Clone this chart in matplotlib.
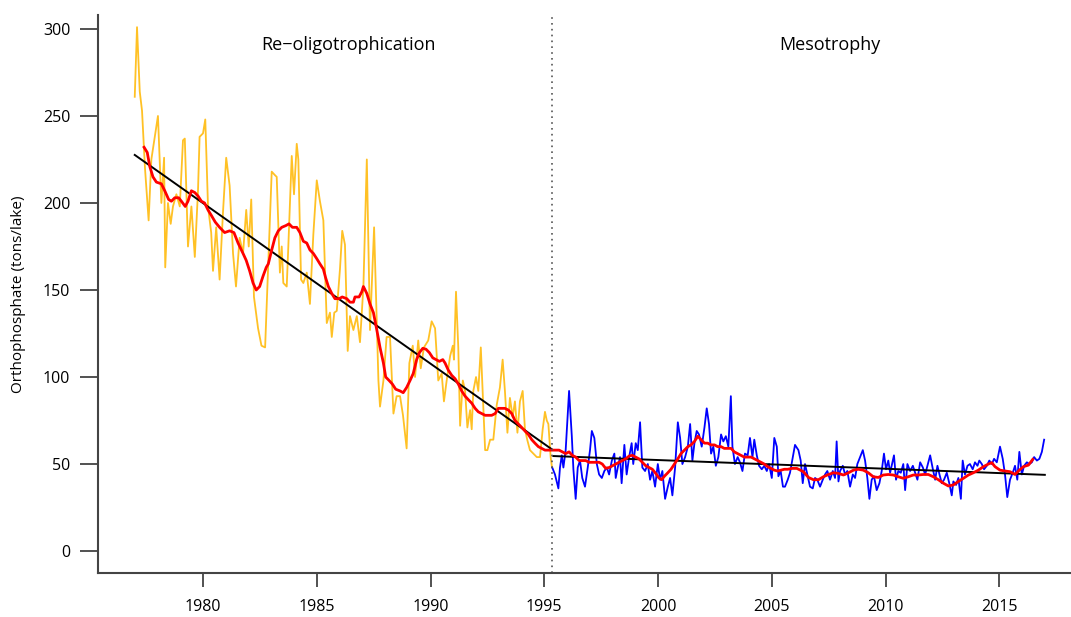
import matplotlib
matplotlib.use("Agg")
import matplotlib.pyplot as plt

# =========================
# DADOS
# =========================

# fase de re-oligotrofização (amarelo)
anos_reoligo = [
    1977.00, 1977.10, 1977.22, 1977.32, 1977.45, 1977.61, 1977.73, 1978.02, 1978.17, 1978.29,
    1978.34, 1978.46, 1978.58, 1978.68, 1978.83, 1978.98, 1979.12, 1979.20, 1979.34, 1979.49,
    1979.64, 1979.78, 1979.85, 1980.00, 1980.10, 1980.22, 1980.36, 1980.44, 1980.58, 1980.73,
    1980.88, 1981.02, 1981.17, 1981.32, 1981.45, 1981.61, 1981.76, 1981.90, 1982.01, 1982.12,
    1982.24, 1982.42, 1982.57, 1982.73, 1982.87, 1983.02, 1983.16, 1983.24, 1983.38, 1983.46,
    1983.53, 1983.68, 1983.75, 1983.90, 1984.00, 1984.12, 1984.19, 1984.31, 1984.41, 1984.56,
    1984.70, 1984.85, 1985.00, 1985.14, 1985.29, 1985.44, 1985.58, 1985.66, 1985.77, 1985.88,
    1986.02, 1986.12, 1986.24, 1986.36, 1986.46, 1986.61, 1986.76, 1986.90, 1987.05, 1987.20,
    1987.34, 1987.52, 1987.71, 1987.78, 1987.93, 1988.07, 1988.22, 1988.37, 1988.51, 1988.66,
    1988.79, 1988.95, 1989.07, 1989.22, 1989.32, 1989.46, 1989.57, 1989.71, 1989.90, 1990.05,
    1990.20, 1990.34, 1990.49, 1990.59, 1990.71, 1990.86, 1990.98, 1991.03, 1991.12, 1991.22,
    1991.30, 1991.42, 1991.52, 1991.62, 1991.74, 1991.81, 1991.88, 1992.00, 1992.10, 1992.21,
    1992.29, 1992.40, 1992.50, 1992.62, 1992.76, 1992.91, 1993.05, 1993.17, 1993.27, 1993.38,
    1993.49, 1993.61, 1993.71, 1993.82, 1993.93, 1994.05, 1994.15, 1994.25, 1994.37, 1994.52,
    1994.67, 1994.81, 1994.93, 1995.03, 1995.11, 1995.18, 1995.28, 1995.34,
]
fosf_reoligo = [
    261, 301, 264, 253, 220, 190, 225, 250, 200, 226,
    163, 200, 188, 198, 205, 198, 236, 237, 175, 198,
    169, 207, 238, 240, 248, 198, 183, 161, 186, 156,
    195, 226, 210, 171, 152, 180, 171, 196, 175, 202,
    146, 128, 118, 117, 165, 218, 216, 215, 160, 175,
    154, 152, 175, 227, 205, 234, 225, 156, 154, 160,
    142, 182, 213, 201, 190, 131, 137, 123, 137, 138,
    162, 184, 176, 115, 135, 127, 135, 120, 152, 225,
    127, 186, 98, 83, 98, 123, 123, 79, 89, 89,
    78, 59, 108, 118, 100, 121, 105, 117, 121, 132,
    128, 98, 102, 86, 98, 112, 118, 110, 149, 117,
    72, 98, 92, 71, 81, 70, 92, 100, 92, 117,
    92, 58, 58, 64, 64, 84, 94, 110, 92, 68,
    88, 77, 86, 68, 86, 92, 70, 64, 58, 56,
    54, 54, 70, 80, 75, 73, 54, 48,
]

# fase de mesotrofia (azul)
anos_meso = [
    1995.35, 1995.47, 1995.62, 1995.69, 1995.77, 1995.84, 1995.94, 1996.09, 1996.21, 1996.28,
    1996.38, 1996.47, 1996.57, 1996.67, 1996.79, 1996.91, 1997.01, 1997.09, 1997.20, 1997.31,
    1997.41, 1997.53, 1997.64, 1997.75, 1997.85, 1997.97, 1998.08, 1998.14, 1998.23, 1998.33,
    1998.40, 1998.52, 1998.62, 1998.73, 1998.84, 1998.91, 1999.02, 1999.11, 1999.21, 1999.31,
    1999.43, 1999.55, 1999.65, 1999.75, 1999.87, 1999.99, 2000.09, 2000.19, 2000.31, 2000.43,
    2000.53, 2000.63, 2000.75, 2000.87, 2000.97, 2001.07, 2001.19, 2001.31, 2001.41, 2001.51,
    2001.60, 2001.70, 2001.80, 2001.92, 2002.04, 2002.14, 2002.24, 2002.33, 2002.43, 2002.54,
    2002.65, 2002.77, 2002.87, 2002.98, 2003.09, 2003.20, 2003.27, 2003.38, 2003.50, 2003.60,
    2003.71, 2003.82, 2003.94, 2004.04, 2004.15, 2004.23, 2004.34, 2004.44, 2004.56, 2004.67,
    2004.78, 2004.88, 2005.00, 2005.11, 2005.22, 2005.29, 2005.39, 2005.49, 2005.58, 2005.70,
    2005.80, 2006.02, 2006.17, 2006.27, 2006.36, 2006.46, 2006.56, 2006.68, 2006.80, 2006.90,
    2007.00, 2007.12, 2007.24, 2007.34, 2007.44, 2007.56, 2007.68, 2007.78, 2007.85, 2007.93,
    2008.00, 2008.12, 2008.22, 2008.32, 2008.44, 2008.56, 2008.66, 2008.76, 2008.88, 2009.00,
    2009.10, 2009.20, 2009.29, 2009.39, 2009.49, 2009.61, 2009.73, 2009.83, 2009.93, 2010.02,
    2010.12, 2010.20, 2010.27, 2010.37, 2010.46, 2010.56, 2010.67, 2010.78, 2010.86, 2010.96,
    2011.08, 2011.20, 2011.30, 2011.40, 2011.52, 2011.64, 2011.74, 2011.84, 2011.96, 2012.08,
    2012.18, 2012.28, 2012.37, 2012.47, 2012.57, 2012.69, 2012.80, 2012.91, 2012.98, 2013.10,
    2013.20, 2013.31, 2013.39, 2013.49, 2013.60, 2013.71, 2013.83, 2013.93, 2014.04, 2014.12,
    2014.23, 2014.33, 2014.45, 2014.56, 2014.67, 2014.77, 2014.89, 2015.03, 2015.15, 2015.25,
    2015.35, 2015.47, 2015.59, 2015.69, 2015.79, 2015.88, 2015.99, 2016.09, 2016.21, 2016.32,
    2016.43, 2016.53, 2016.65, 2016.76, 2016.87, 2016.97,
]
fosf_meso = [
    48, 44, 36, 48, 55, 48, 58, 92, 66, 47,
    30, 48, 52, 42, 37, 48, 58, 69, 65, 50,
    44, 42, 46, 48, 44, 52, 56, 42, 48, 54,
    39, 61, 44, 54, 62, 50, 62, 58, 74, 48,
    46, 50, 41, 46, 37, 50, 41, 46, 30, 37,
    42, 32, 48, 74, 65, 50, 54, 60, 73, 52,
    62, 69, 67, 60, 71, 82, 73, 56, 60, 49,
    54, 67, 63, 66, 60, 89, 60, 50, 54, 51,
    46, 56, 55, 65, 54, 64, 55, 49, 47, 49,
    46, 50, 42, 65, 60, 43, 46, 37, 37, 41,
    45, 61, 58, 52, 39, 50, 44, 37, 36, 42,
    41, 37, 41, 44, 46, 41, 46, 42, 63, 40,
    46, 49, 44, 46, 37, 44, 42, 50, 54, 58,
    52, 42, 30, 41, 43, 35, 39, 46, 56, 47,
    52, 45, 49, 55, 41, 46, 45, 50, 35, 50,
    46, 49, 45, 41, 51, 48, 44, 49, 55, 47,
    41, 49, 44, 39, 41, 45, 39, 32, 40, 38,
    42, 30, 52, 44, 49, 50, 47, 51, 49, 52,
    50, 47, 49, 52, 50, 53, 51, 60, 53, 44,
    31, 41, 45, 49, 41, 57, 44, 49, 51, 50,
    51, 54, 52, 53, 57, 64,
]

# média móvel (vermelho)
anos_media = [
    1977.41, 1977.55, 1977.66, 1977.80, 1977.95, 1978.17, 1978.32, 1978.49, 1978.61, 1978.76,
    1978.93, 1979.05, 1979.22, 1979.34, 1979.49, 1979.64, 1979.78, 1979.93, 1980.07, 1980.22,
    1980.36, 1980.54, 1980.73, 1980.95, 1981.17, 1981.36, 1981.54, 1981.76, 1981.90, 1982.05,
    1982.20, 1982.34, 1982.49, 1982.64, 1982.78, 1982.87, 1983.02, 1983.16, 1983.31, 1983.46,
    1983.64, 1983.78, 1983.93, 1984.12, 1984.26, 1984.41, 1984.56, 1984.70, 1984.85, 1985.00,
    1985.14, 1985.29, 1985.39, 1985.51, 1985.66, 1985.80, 1985.98, 1986.12, 1986.32, 1986.46,
    1986.61, 1986.68, 1986.86, 1986.98, 1987.05, 1987.20, 1987.34, 1987.49, 1987.64, 1987.78,
    1987.93, 1988.03, 1988.18, 1988.32, 1988.47, 1988.66, 1988.80, 1988.95, 1989.10, 1989.24,
    1989.39, 1989.51, 1989.66, 1989.80, 1989.95, 1990.10, 1990.24, 1990.39, 1990.54, 1990.64,
    1990.78, 1990.93, 1991.08, 1991.22, 1991.37, 1991.52, 1991.66, 1991.81, 1991.96, 1992.10,
    1992.25, 1992.40, 1992.54, 1992.69, 1992.84, 1992.98, 1993.13, 1993.27, 1993.42, 1993.57,
    1993.71, 1993.86, 1994.01, 1994.15, 1994.30, 1994.45, 1994.59, 1994.74, 1994.89, 1995.03,
    1995.18, 1995.33, 1995.47, 1995.65, 1995.79, 1995.94, 1996.09, 1996.23, 1996.38, 1996.53,
    1996.67, 1996.82, 1996.97, 1997.11, 1997.26, 1997.41, 1997.55, 1997.70, 1997.85, 1997.99,
    1998.14, 1998.29, 1998.43, 1998.58, 1998.73, 1998.87, 1999.02, 1999.16, 1999.31, 1999.46,
    1999.60, 1999.75, 1999.90, 2000.04, 2000.16, 2000.28, 2000.43, 2000.57, 2000.72, 2000.87,
    2001.01, 2001.16, 2001.31, 2001.45, 2001.60, 2001.75, 2001.89, 2002.04, 2002.18, 2002.33,
    2002.48, 2002.62, 2002.77, 2002.91, 2003.06, 2003.21, 2003.35, 2003.50, 2003.65, 2003.79,
    2003.94, 2004.09, 2004.23, 2004.38, 2004.53, 2004.67, 2004.82, 2004.97, 2005.11, 2005.26,
    2005.41, 2005.55, 2005.70, 2005.88, 2006.10, 2006.39, 2006.61, 2006.83, 2007.05, 2007.27,
    2007.49, 2007.71, 2007.93, 2008.15, 2008.37, 2008.59, 2008.80, 2009.02, 2009.24, 2009.46,
    2009.68, 2009.90, 2010.12, 2010.34, 2010.56, 2010.78, 2011.00, 2011.22, 2011.44, 2011.66,
    2011.88, 2012.10, 2012.32, 2012.54, 2012.76, 2012.98, 2013.20, 2013.42, 2013.64, 2013.86,
    2014.08, 2014.30, 2014.52, 2014.67, 2014.81, 2015.03, 2015.25, 2015.47, 2015.69, 2015.88,
    2016.06, 2016.28, 2016.47,
]
fosf_media = [
    232, 229, 221, 215, 212, 211, 207, 202, 201, 203,
    203, 201, 198, 201, 207, 206, 204, 201, 200, 196,
    193, 189, 186, 183, 184, 183, 177, 171, 167, 161,
    154, 150, 152, 158, 163, 165, 173, 180, 184, 186,
    187, 188, 186, 186, 183, 178, 177, 173, 171, 168,
    165, 162, 157, 152, 148, 145, 145, 146, 145, 143,
    143, 146, 146, 149, 152, 148, 142, 137, 127, 117,
    108, 100, 98, 96, 93, 92, 91, 94, 98, 102,
    110, 114, 116.5, 116, 114, 111, 110, 109, 110, 108,
    104, 101, 99, 96, 92, 89, 87, 85, 82, 80,
    79, 78, 78, 78, 79, 82, 82, 82, 81, 79,
    75, 73, 71, 69, 67, 64, 62, 60, 59, 58,
    58, 58, 58, 58, 57, 56, 57, 55, 54, 52,
    52, 52, 51, 51, 51, 51, 50, 47.5, 48, 49,
    50, 51, 52, 53, 54.6, 55, 54, 53, 51, 49,
    48, 47, 44.6, 42, 41, 43, 45, 47, 50, 53,
    56, 58, 60, 61, 63, 66, 64, 62, 62, 61,
    61, 60, 60, 59, 59, 59, 57, 56, 55, 54,
    54, 54, 53, 52, 51, 50, 48.5, 47.5, 46.5, 46,
    46.5, 47, 47, 47.5, 47.5, 45.6, 42.3, 41, 41, 42.7,
    44, 45, 44.6, 43.7, 45, 46.5, 47, 46.5, 45, 42.7,
    42.3, 43.7, 44, 43.7, 42.7, 41.8, 42.7, 43.7, 43.7, 44,
    44, 42.7, 41, 39, 37.4, 38, 40, 41.8, 43.7, 45,
    46.5, 48.5, 50, 50.8, 48.5, 46.5, 46, 45.6, 44, 46.5,
    48.5, 49.4, 52.7,
]

# tendências lineares (início e fim de cada fase)
tend_reoligo_anos = [1977.0, 1995.33]
tend_reoligo_vals = [227.6, 58.5]
tend_meso_anos = [1995.4, 2017.0]
tend_meso_vals = [54.6, 43.8]

ano_quebra = 1995.34

anos_ticks = [1980, 1985, 1990, 1995, 2000, 2005, 2010, 2015]
fosf_ticks = [0, 50, 100, 150, 200, 250, 300]

# =========================
# GRÁFICO
# =========================

plt.rcParams["font.family"] = ["Open Sans", "DejaVu Sans"]

fig = plt.figure(figsize=(10.71, 6.17), dpi=100)
ax = fig.add_axes([98 / 1071, 44 / 617, 983 / 1071, 558 / 617])

ax.plot(anos_reoligo, fosf_reoligo, color="#FFC125", lw=1.3)
ax.plot(anos_meso, fosf_meso, color="#0000FF", lw=1.3)
ax.plot(tend_reoligo_anos, tend_reoligo_vals, color="black", lw=1.4)
ax.plot(tend_meso_anos, tend_meso_vals, color="black", lw=1.4)
ax.plot(anos_media, fosf_media, color="#FF0000", lw=2.0)

ax.axvline(ano_quebra, color="#555555", lw=1.2, ls=(0, (1, 2.5)))

ax.text(1986.4, 291, "Re\u2212oligotrophication", ha="center", va="center", fontsize=13)
ax.text(2007.55, 291, "Mesotrophy", ha="center", va="center", fontsize=13)

ax.set_xlim(1975.385, 2018.59)
ax.set_ylim(-12.6, 308)

ax.set_xticks(anos_ticks)
ax.set_yticks(fosf_ticks)
ax.tick_params(axis="x", direction="out", length=10, width=1.1, labelsize=11.5, pad=9, color="#222222")
ax.tick_params(axis="y", direction="out", length=13, width=1.1, labelsize=11.5, pad=7, color="#222222")

ax.spines["top"].set_visible(False)
ax.spines["right"].set_visible(False)
for lado in ["left", "bottom"]:
    ax.spines[lado].set_linewidth(1.5)
    ax.spines[lado].set_color("#444444")

ax.set_ylabel("Orthophosphate (tons/lake)", fontsize=11, labelpad=12)

plt.savefig("out.png", dpi=100)
plt.close()
